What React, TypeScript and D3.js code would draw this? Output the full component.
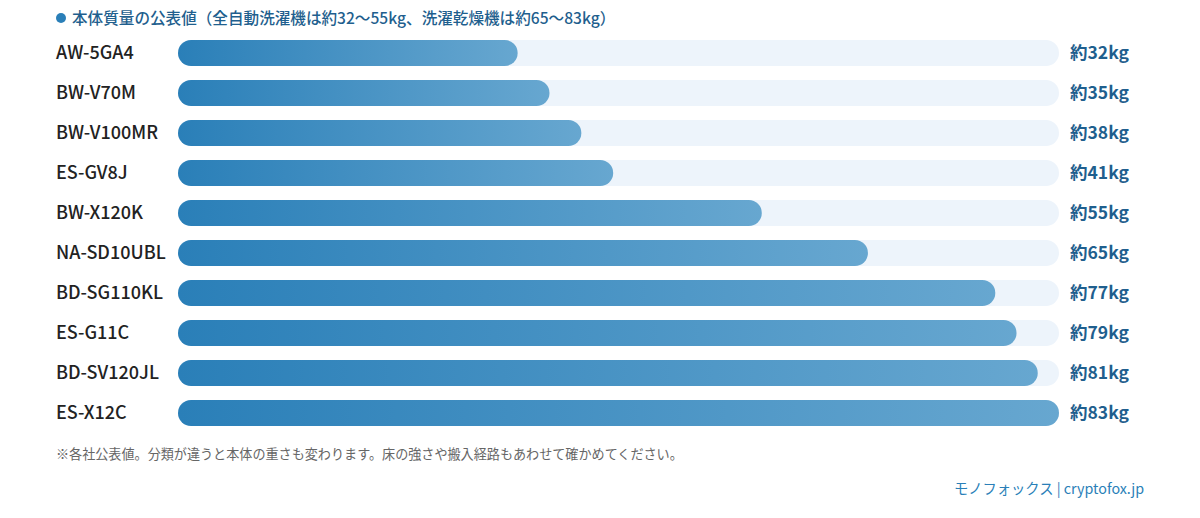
import { useEffect, useRef } from "react"
import * as d3 from "d3"

const models = ["AW-5GA4", "BW-V70M", "BW-V100MR", "ES-GV8J", "BW-X120K", "NA-SD10UBL", "BD-SG110KL", "ES-G11C", "BD-SV120JL", "ES-X12C"]
const weights = [32, 35, 38, 41, 55, 65, 77, 79, 81, 83]
const valueLabels = ["約32kg", "約35kg", "約38kg", "約41kg", "約55kg", "約65kg", "約77kg", "約79kg", "約81kg", "約83kg"]

const TITLE = "本体質量の公表値（全自動洗濯機は約32〜55kg、洗濯乾燥機は約65〜83kg）"
const NOTE = "※各社公表値。分類が違うと本体の重さも変わります。床の強さや搬入経路もあわせて確かめてください。"
const CREDIT = "モノフォックス | cryptofox.jp"

const FONT = "'Noto Sans CJK JP', 'Noto Sans', sans-serif"

export default function App() {
  const ref = useRef<SVGSVGElement>(null)
  useEffect(() => {
    if (!ref.current) return
    const W = 1200, H = 518
    const svg = d3.select(ref.current)
    svg.selectAll("*").remove()

    const x = d3.scaleLinear().domain([0, 83]).range([178, 1059])
    const y = d3.scaleBand().domain(models).range([33, 433]).paddingInner(0.35).paddingOuter(0.175)
    const bh = y.bandwidth()

    const defs = svg.append("defs")
    const grad = defs.append("linearGradient").attr("id", "barGrad").attr("x1", "0%").attr("x2", "100%")
    grad.append("stop").attr("offset", "0%").attr("stop-color", "#2a7fb8")
    grad.append("stop").attr("offset", "100%").attr("stop-color", "#67a7d0")

    // title
    svg.append("circle").attr("cx", 61).attr("cy", 18).attr("r", 5).attr("fill", "#2a7fb8")
    svg.append("text").attr("x", 72).attr("y", 24).style("font-family", FONT).style("font-size", "15.6px")
      .style("font-weight", 500).style("fill", "#1f5f8e").text(TITLE)

    const rows = svg.append("g").selectAll("g").data(models).join("g")
      .attr("transform", d => `translate(0,${y(d)})`)

    rows.append("rect").attr("x", x(0)).attr("y", 0).attr("width", x(83) - x(0)).attr("height", bh)
      .attr("rx", bh / 2).attr("fill", "#edf4fb")
    rows.append("rect").attr("x", x(0)).attr("y", 0).attr("width", (_, i) => x(weights[i]) - x(0)).attr("height", bh)
      .attr("rx", bh / 2).attr("fill", "url(#barGrad)")
    rows.append("text").attr("x", 56).attr("y", bh / 2).attr("dy", "0.36em")
      .style("font-family", FONT).style("font-size", "18px").style("font-weight", 500).style("fill", "#222").text(d => d)
    rows.append("text").attr("x", 1070).attr("y", bh / 2).attr("dy", "0.36em")
      .style("font-family", FONT).style("font-size", "17.5px").style("font-weight", 700).style("fill", "#1f5f8e")
      .text((_, i) => valueLabels[i])

    svg.append("text").attr("x", 56).attr("y", 459).style("font-family", FONT).style("font-size", "13.1px")
      .style("fill", "#666").text(NOTE)
    svg.append("text").attr("x", 1144).attr("y", 494).attr("text-anchor", "end").style("font-family", FONT)
      .style("font-size", "14.3px").style("fill", "#2a7fb8").text(CREDIT)

    svg.attr("viewBox", `0 0 ${W} ${H}`)
  }, [])
  return <svg ref={ref} width={1200} height={518} style={{ display: "block", position: "absolute", left: 0, top: 0, background: "#fff" }} />
}
